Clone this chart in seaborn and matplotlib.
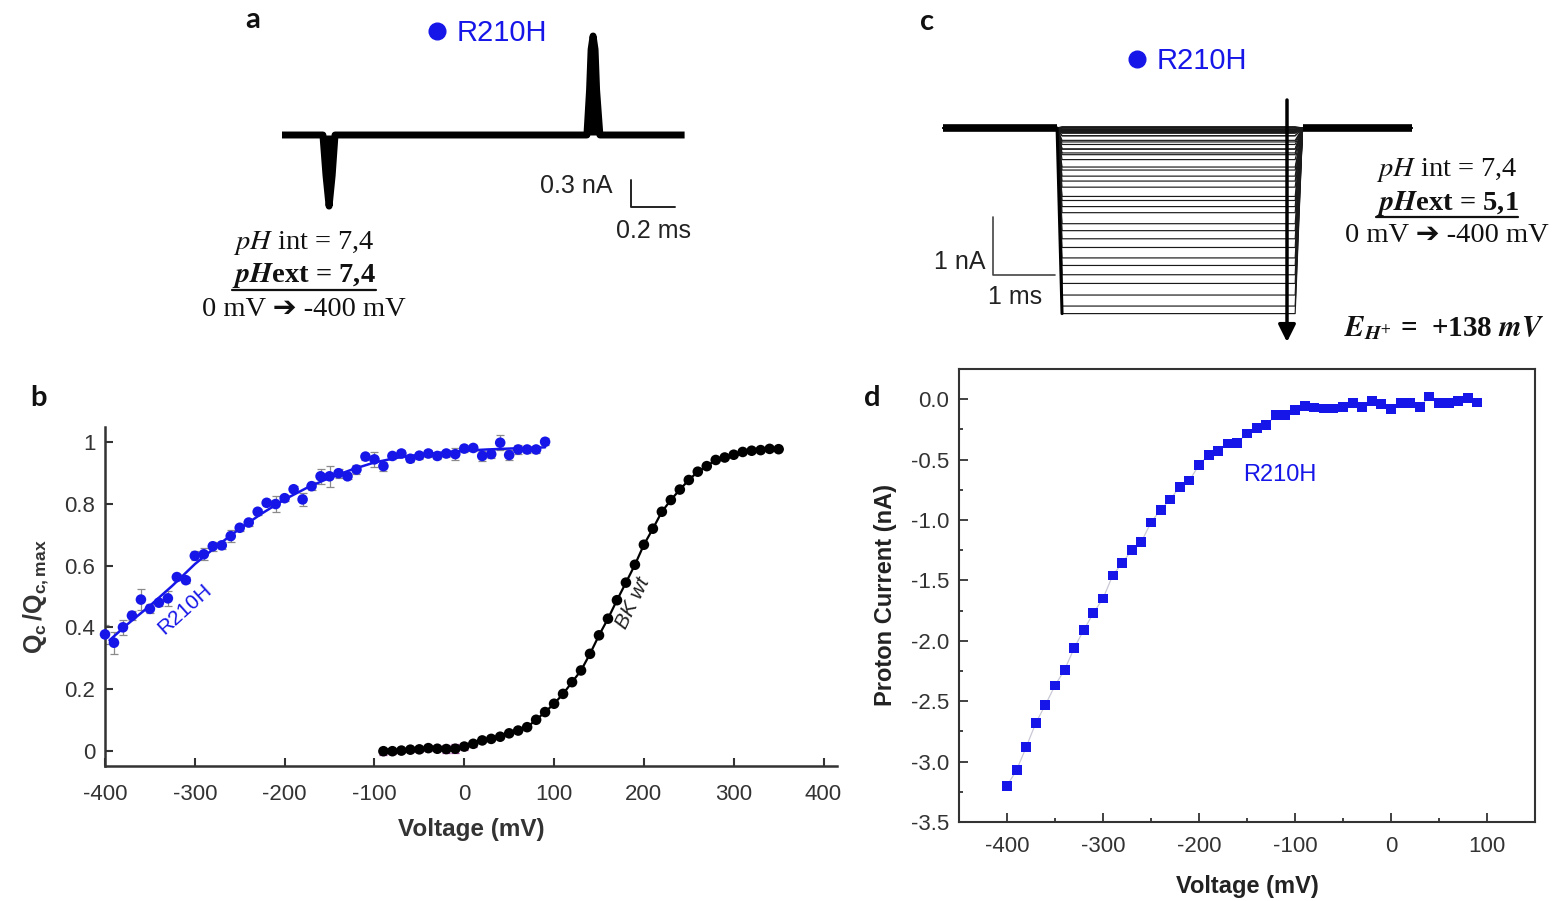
import numpy as np
import matplotlib
matplotlib.use("Agg")
import matplotlib.pyplot as plt
import seaborn as sns
from matplotlib.lines import Line2D
from matplotlib.ticker import MultipleLocator, FormatStrFormatter

# ---------------- data ----------------
# panel b : normalised gating charge
voltage_mut = list(range(-400, 100, 10))
qc_mut = [0.377, 0.35, 0.40, 0.438, 0.49, 0.46, 0.48, 0.494, 0.563, 0.553,
          0.632, 0.637, 0.663, 0.666, 0.696, 0.723, 0.74, 0.775, 0.804, 0.80,
          0.819, 0.848, 0.815, 0.858, 0.89, 0.89, 0.90, 0.89, 0.912, 0.954,
          0.945, 0.923, 0.956, 0.964, 0.947, 0.957, 0.964, 0.956, 0.964, 0.962,
          0.98, 0.982, 0.956, 0.962, 0.999, 0.959, 0.977, 0.977, 0.977, 1.002]
qc_mut_err = [0.03, 0.035, 0.025, 0.015, 0.035, 0.015, 0.01, 0.025, 0.01, 0.01,
              0.015, 0.02, 0.015, 0.012, 0.02, 0.01, 0.01, 0.01, 0.01, 0.025,
              0.01, 0.01, 0.02, 0.012, 0.025, 0.035, 0.015, 0.01, 0.015, 0.01,
              0.025, 0.015, 0.01, 0.012, 0.012, 0.01, 0.01, 0.01, 0.012, 0.02,
              0.01, 0.01, 0.015, 0.012, 0.025, 0.015, 0.015, 0.012, 0.012, 0.012]
fit_v_mut = [-395, -375, -350, -325, -300, -275, -250, -225, -200, -175,
             -150, -125, -100, -75, -50, -25, 0, 25, 50, 90]
fit_q_mut = [0.358, 0.41, 0.47, 0.535, 0.605, 0.665, 0.72, 0.77, 0.815, 0.853,
             0.885, 0.912, 0.935, 0.95, 0.96, 0.967, 0.973, 0.977, 0.98, 0.984]

voltage_wt = list(range(-90, 360, 10))
qc_wt = [-0.002, -0.002, 0.0, 0.003, 0.004, 0.008, 0.006, 0.005, 0.006, 0.013,
         0.022, 0.033, 0.038, 0.045, 0.056, 0.065, 0.076, 0.10, 0.125, 0.152,
         0.184, 0.222, 0.26, 0.314, 0.374, 0.428, 0.488, 0.545, 0.603, 0.668,
         0.72, 0.775, 0.813, 0.847, 0.878, 0.905, 0.923, 0.943, 0.951, 0.96,
         0.969, 0.973, 0.975, 0.979, 0.978]
qc_wt_err = [0.012, 0.008, 0.006, 0.006, 0.008, 0.01, 0.008, 0.012, 0.015, 0.012,
             0.01] + [0.0] * 34

b_xticks = [-400, -300, -200, -100, 0, 100, 200, 300, 400]
b_yticks = [0, 0.2, 0.4, 0.6, 0.8, 1.0]
b_yticklabels = ["0", "0.2", "0.4", "0.6", "0.8", "1"]

# panel d : proton current
voltage_d = list(range(-400, 100, 10))
proton_current = [-3.20, -3.07, -2.88, -2.68, -2.53, -2.37, -2.24, -2.06, -1.91, -1.77,
                  -1.65, -1.46, -1.355, -1.25, -1.18, -1.02, -0.915, -0.83, -0.725, -0.673,
                  -0.545, -0.46, -0.43, -0.366, -0.36, -0.284, -0.24, -0.213, -0.134, -0.134,
                  -0.09, -0.057, -0.068, -0.077, -0.077, -0.063, -0.034, -0.063, -0.014, -0.043,
                  -0.082, -0.034, -0.034, -0.063, 0.023, -0.034, -0.034, -0.014, 0.009, -0.028]
d_xticks = [-400, -300, -200, -100, 0, 100]
d_yticks = [-3.5, -3.0, -2.5, -2.0, -1.5, -1.0, -0.5, 0.0]

# panel a : gating current trace (ms, nA)
trace_a_t = [0.0, 0.186, 0.200, 0.214, 0.228, 0.241, 1.386, 1.398, 1.405, 1.414,
             1.423, 1.430, 1.445, 1.83]
trace_a_i = [0.0, 0.0, -0.45, -0.79, -0.45, 0.0, 0.0, 0.5, 0.95, 1.10,
             0.95, 0.5, 0.0, 0.0]
scale_a_ms, scale_a_nA = 0.2, 0.3

# panel c : proton current traces (ms); step amplitudes from proton_current
trace_c_t = [0.0, 1.84, 1.92, 5.68, 5.80, 7.56]
scale_c_ms, scale_c_nA = 1.0, 1.0
reversal_label = "+138"

# ---------------- style ----------------
W, H = 1564, 901
sns.set_style("ticks")
plt.rcParams["font.family"] = ["Liberation Sans", "DejaVu Sans"]
plt.rcParams["axes.unicode_minus"] = False
plt.rcParams["mathtext.fontset"] = "custom"
plt.rcParams["mathtext.rm"] = "Liberation Sans"
plt.rcParams["mathtext.bf"] = "Liberation Sans:bold"
plt.rcParams["mathtext.it"] = "Liberation Sans:italic"

BLUE = "#1616e8"
DARK = "#333333"
SERIF = ["Liberation Serif", "DejaVu Sans"]

fig = plt.figure(figsize=(W / 100, H / 100), dpi=100)
fig.patch.set_facecolor("white")


def px_axes(l, t, r, b):
    return fig.add_axes([l / W, 1 - b / H, (r - l) / W, (b - t) / H])


def ftext(x, y, s, **kw):
    return fig.text(x / W, 1 - y / H, s, **kw)


# ---------------- panel b ----------------
ax_b = px_axes(105, 427, 837, 766)
ax_b.errorbar(voltage_mut, qc_mut, yerr=qc_mut_err, fmt="none", ecolor="#8a8a8a",
              elinewidth=0.9, capsize=3, capthick=0.9, zorder=2)
ax_b.errorbar(voltage_wt, qc_wt, yerr=qc_wt_err, fmt="none", ecolor="#9a3a9a",
              elinewidth=0.9, capsize=3, capthick=0.9, zorder=2)
sns.lineplot(x=fit_v_mut, y=fit_q_mut, ax=ax_b, color=BLUE, lw=1.8, zorder=3)
sns.lineplot(x=voltage_wt, y=qc_wt, ax=ax_b, color="black", lw=1.6, zorder=3)
sns.scatterplot(x=voltage_mut, y=qc_mut, ax=ax_b, color=BLUE, s=58,
                edgecolor="none", zorder=4, clip_on=False)
sns.scatterplot(x=voltage_wt, y=qc_wt, ax=ax_b, color="black", s=58,
                edgecolor="none", zorder=4, clip_on=False)
ax_b.set_xlim(-400, 415)
ax_b.set_ylim(-0.05, 1.05)
ax_b.set_xticks(b_xticks)
ax_b.set_yticks(b_yticks)
ax_b.set_yticklabels(b_yticklabels)
ax_b.spines[["top", "right"]].set_visible(False)
for s in ["left", "bottom"]:
    ax_b.spines[s].set_color(DARK)
    ax_b.spines[s].set_linewidth(1.8)
ax_b.tick_params(direction="in", length=6, width=1.5, colors=DARK, labelsize=16)
ax_b.tick_params(axis="y", pad=7)
ax_b.tick_params(axis="x", pad=13)
ax_b.set_xlabel("Voltage (mV)", fontsize=17.5, fontweight="bold", color=DARK, labelpad=9)
ax_b.set_ylabel(r"$\mathbf{Q}_{\mathbf{c}}\,\mathbf{/Q}_{\mathbf{c,max}}$", fontsize=18,
                color=DARK, labelpad=10)
ax_b.text(-311, 0.458, "R210H", color=BLUE, fontsize=15, rotation=42,
          ha="center", va="center", rotation_mode="anchor")
ax_b.text(188, 0.477, "BK wt", color="#222222", fontsize=15, rotation=64,
          style="italic", ha="center", va="center", rotation_mode="anchor")

# ---------------- panel d ----------------
ax_d = px_axes(959, 369, 1535, 822)
sns.lineplot(x=voltage_d, y=proton_current, ax=ax_d, color="#c9c9d6", lw=0.9, zorder=2)
sns.scatterplot(x=voltage_d, y=proton_current, ax=ax_d, marker="s", s=50, color=BLUE,
                edgecolor="none", linewidth=0, zorder=3)
ax_d.set_xlim(-450, 150)
ax_d.set_ylim(-3.5, 0.25)
ax_d.set_xticks(d_xticks)
ax_d.set_yticks(d_yticks)
ax_d.xaxis.set_minor_locator(MultipleLocator(50))
ax_d.yaxis.set_minor_locator(MultipleLocator(0.25))
ax_d.yaxis.set_major_formatter(FormatStrFormatter("%.1f"))
ax_d.tick_params(which="major", direction="in", length=6.5, width=1.3, colors=DARK, labelsize=16)
ax_d.tick_params(which="minor", direction="in", length=3, width=1.3, colors=DARK)
ax_d.tick_params(axis="x", which="major", pad=10)
ax_d.tick_params(axis="y", which="major", pad=7)
for s in ax_d.spines.values():
    s.set_color(DARK)
    s.set_linewidth(1.5)
ax_d.set_xlabel("Voltage (mV)", fontsize=17, fontweight="bold", color="#222", labelpad=13)
ax_d.set_ylabel("Proton Current (nA)", fontsize=17, fontweight="bold", color="#222", labelpad=10)
ax_d.text(-116, -0.625, "R210H", color=BLUE, fontsize=17, ha="center", va="center")

# ---------------- panel a ----------------
ax_a = px_axes(200, 0, 720, 330)
ax_a.axis("off")
ax_a.set_xlim((200 - 282) / 220, (720 - 282) / 220)
ax_a.set_ylim((135 - 330) / 90, (135 - 0) / 90)
ax_a.fill_between(trace_a_t, trace_a_i, 0, color="black", lw=0)
ax_a.plot(trace_a_t, trace_a_i, color="black", lw=5, solid_joinstyle="round",
          solid_capstyle="butt")
sa_t, sa_i = (631 - 282) / 220, (135 - 207) / 90
ax_a.plot([sa_t, sa_t, sa_t + scale_a_ms], [sa_i + scale_a_nA, sa_i, sa_i],
          color="#222", lw=1.4)

# ---------------- panel c ----------------
ax_c = px_axes(930, 90, 1430, 350)
ax_c.axis("off")
ax_c.set_xlim((930 - 943) / 62, (1430 - 943) / 62)
ax_c.set_ylim((128 - 350) / 58, (128 - 90) / 58)
for amp in proton_current:
    ax_c.plot(trace_c_t, [0, 0, amp, amp, 0, 0], color="#1a1a1a", lw=0.85)
ax_c.plot(trace_c_t[:2], [0, 0], color="black", lw=5.5, solid_capstyle="butt")
ax_c.plot(trace_c_t[4:], [0, 0], color="black", lw=5.5, solid_capstyle="butt")
ax_c.plot([trace_c_t[1], trace_c_t[2]], [0, min(proton_current)], color="black", lw=2.2)
arrow_t = (1287 - 943) / 62
ax_c.annotate("", xy=(arrow_t, (128 - 342) / 58), xytext=(arrow_t, (128 - 100) / 58),
              arrowprops=dict(arrowstyle="-|>", lw=2.5, color="black", mutation_scale=26,
                              shrinkA=0, shrinkB=0), annotation_clip=False)
sc_t, sc_i = (993 - 943) / 62, (128 - 275) / 58
ax_c.plot([sc_t, sc_t, sc_t + scale_c_ms], [sc_i + scale_c_nA, sc_i, sc_i],
          color="#444", lw=1.2)

# ---------------- legends ----------------
for lx, ly in [(427, 33), (1127, 61)]:
    h = Line2D([], [], marker="o", ls="", color=BLUE, markersize=12)
    fig.legend([h], ["R210H"], loc="center left", bbox_to_anchor=(lx / W, 1 - ly / H),
               frameon=False, fontsize=21, handlelength=0.7, handletextpad=0.31,
               borderpad=0, borderaxespad=0, labelcolor=BLUE)

# ---------------- texts ----------------
tk = dict(fontsize=18, color="#222", va="center")
ftext(613, 186, "0.3 nA", ha="right", **tk)
ftext(654, 231, "0.2 ms", ha="center", **tk)
ftext(985, 262, "1 nA", ha="right", **tk)
ftext(1015, 297, "1 ms", ha="center", **tk)

ph = dict(fontsize=20.5, color="#111", ha="center", va="center", family=SERIF,
          math_fontfamily="stix")
under = []
for cx, y0, ext in [(304, 243, "7,4"), (1447, 170, "5,1")]:
    ftext(cx, y0, r"$pH$ int = 7,4", **ph)
    t2 = ftext(cx, y0 + 33, r"$\mathbfit{pH}$ext = " + ext, fontweight="bold", **ph)
    ftext(cx, y0 + 66, "0 mV \u2794 -400 mV", **ph)
    under.append((t2, y0 + 47))

ftext(1444, 328, r"$\mathbfit{E}_{\mathbfit{H}^{+}}$ =  " + reversal_label + r" $\mathbfit{mV}$",
      fontsize=21, color="#111", ha="center", va="center", family=SERIF,
      fontweight="bold", math_fontfamily="stix")

lab = dict(fontsize=21, fontweight="bold", family=["Lato", "DejaVu Sans"],
           ha="center", va="center", color="#111")
ftext(253, 20, "a", **lab)
ftext(38, 398, "b", **lab)
ftext(927, 22, "c", **lab)
ftext(872, 398, "d", **lab)

fig.canvas.draw()
for t2, yu in under:
    bb = t2.get_window_extent()
    fig.add_artist(Line2D([bb.x0 / W, bb.x1 / W], [1 - yu / H, 1 - yu / H],
                          transform=fig.transFigure, color="#111", lw=1.6))

fig.savefig("out.png", dpi=100)
